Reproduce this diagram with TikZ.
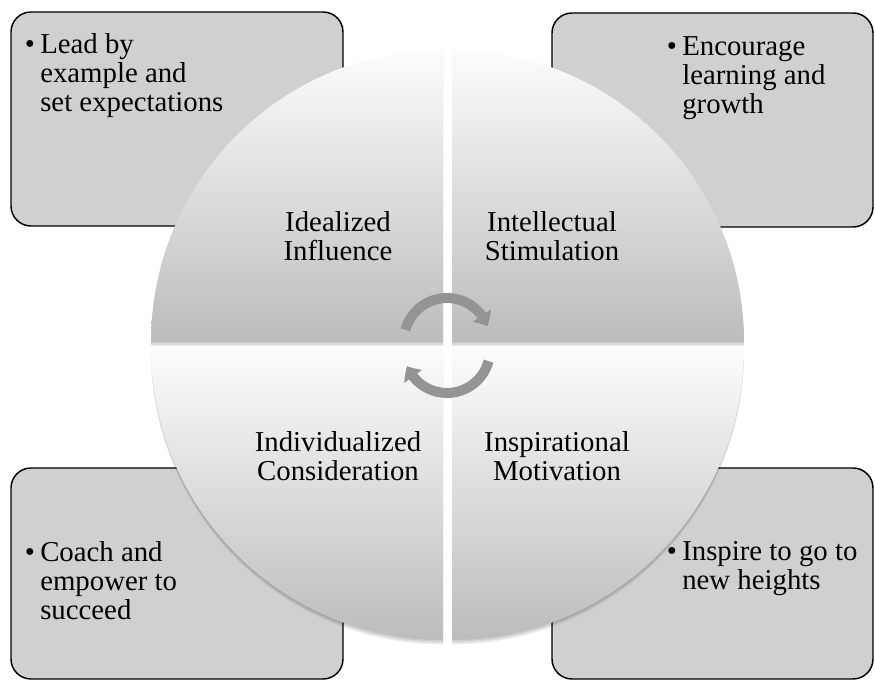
\documentclass[tikz,border=0pt]{standalone}
\usepackage{fontspec}
\setmainfont{Liberation Serif}
\usetikzlibrary{arrows.meta,bending}
\definecolor{boxfill}{RGB}{208,208,208}
\definecolor{quadtop}{RGB}{252,252,252}
\definecolor{quadbot}{RGB}{188,188,188}
\definecolor{arrowgray}{RGB}{148,148,148}
\begin{document}
\begin{tikzpicture}[x=0.75pt,y=0.75pt,
  bx/.style={draw=black,line width=1.1pt,fill=boxfill,rounded corners=15pt},
  quad/.style={top color=quadtop,bottom color=quadbot},
  shad/.style={fill=black,opacity=0.07},
  lbl/.style={font=\fontsize{21.6}{22}\selectfont,align=center,anchor=base,inner sep=0pt},
  btxt/.style={font=\fontsize{21.6}{22}\selectfont,align=left,anchor=base west,inner sep=0pt},
  cyc/.style={draw=arrowgray,line width=7.5pt,-{Triangle[width=16pt,length=9pt,bend]}}]
\useasboundingbox (0,0) rectangle (875,681);
% boxes
\draw[bx] (11,455) rectangle (343,669);
\draw[bx] (552,454) rectangle (873,668);
\draw[bx] (11,2) rectangle (343,213);
\draw[bx] (552,2) rectangle (873,213);
% shadows
\foreach \d in {1.5,3,4.5}{
  \fill[shad] (443,339-\d) -- (151,339-\d) arc[start angle=180,end angle=90,radius=292] -- cycle;
  \fill[shad] (452,339-\d) -- (452,631-\d) arc[start angle=90,end angle=0,radius=292] -- cycle;
  \fill[shad] (443,333-\d) -- (443,41-\d) arc[start angle=270,end angle=180,radius=292] -- cycle;
  \fill[shad] (452,333-\d) -- (744,333-\d) arc[start angle=0,end angle=-90,radius=292] -- cycle;
}
% quadrants
\shade[quad] (443,339) -- (151,339) arc[start angle=180,end angle=90,radius=292] -- cycle;
\shade[quad] (452,339) -- (452,631) arc[start angle=90,end angle=0,radius=292] -- cycle;
\shade[quad] (443,333) -- (443,41) arc[start angle=270,end angle=180,radius=292] -- cycle;
\shade[quad] (452,333) -- (744,333) arc[start angle=0,end angle=-90,radius=292] -- cycle;
% cycle arrows
\draw[cyc] (447,340) ++(165:43) arc[start angle=165,end angle=20,radius=43];
\draw[cyc] (447,331) ++(-15:43) arc[start angle=-15,end angle=-158,radius=43];
% box texts (anchor base = last line)
\node[btxt] (t1) at (40,569) {\llap{•\hspace{4pt}}Lead by\\example and\\set expectations};
\node[btxt] (t2) at (682,567) {\llap{•\hspace{4pt}}Encourage\\learning and\\growth};
\node[btxt] (t3) at (40,61) {\llap{•\hspace{4pt}}Coach and\\empower to\\succeed};
\node[btxt] (t4) at (682,91) {\llap{•\hspace{4pt}}Inspire to go to\\new heights};
% quadrant labels
\node[lbl] (q1) at (338,420) {Idealized\\Influence};
\node[lbl] (q2) at (552,420) {Intellectual\\Stimulation};
\node[lbl] (q3) at (338,200) {Individualized\\Consideration};
\node[lbl] (q4) at (557,200) {Inspirational\\Motivation};
\end{tikzpicture}
\end{document}
